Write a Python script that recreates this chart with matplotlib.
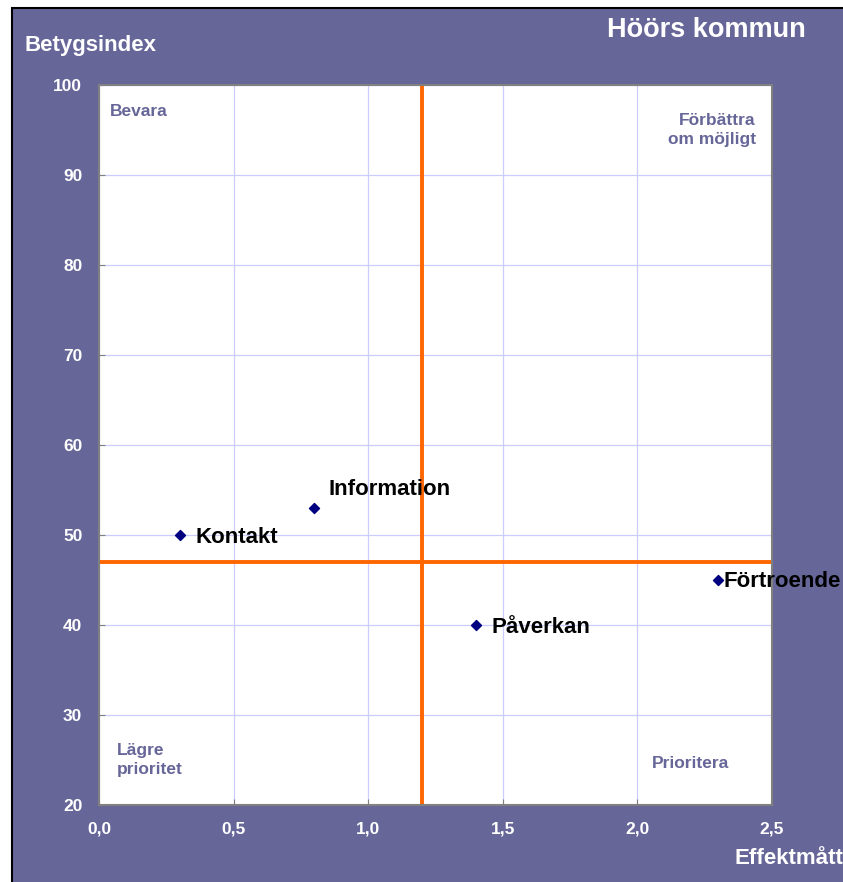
import matplotlib.pyplot as plt
from matplotlib.patches import Rectangle

plt.rcParams['font.family'] = ['Liberation Sans', 'DejaVu Sans']

# data
names = ['Kontakt', 'Information', 'Påverkan', 'Förtroende']
effekt = [0.3, 0.8, 1.4, 2.3]
betyg = [50, 53, 40, 45]
label_offsets = [(11, -1.5), (10, 13), (11, -1.5), (4, -1)]

x_ticks = [0.0, 0.5, 1.0, 1.5, 2.0, 2.5]
x_ticklabels = ['0,0', '0,5', '1,0', '1,5', '2,0', '2,5']
y_ticks = [20, 30, 40, 50, 60, 70, 80, 90, 100]

x_split = 1.2
y_split = 47

purple = '#666699'

fig = plt.figure(figsize=(8.43, 8.82), dpi=100)
fig.patch.set_facecolor('white')
bg = Rectangle((12 / 843, -0.05), 1.2, 1 - 8 / 882 + 0.05, transform=fig.transFigure,
               facecolor=purple, edgecolor='black', linewidth=1.5, zorder=-10)
fig.patches.append(bg)

ax = fig.add_axes([99 / 843, 77 / 882, 673 / 843, 720 / 882])
ax.set_facecolor('white')
ax.set_xlim(0, 2.5)
ax.set_ylim(20, 100)
ax.set_xticks(x_ticks)
ax.set_xticklabels(x_ticklabels)
ax.set_yticks(y_ticks)
ax.grid(True, color='#ccccff', linewidth=0.9, zorder=0)
ax.set_axisbelow(True)
ax.tick_params(direction='in', length=4, color='#808080', labelcolor='white',
               labelsize=12.5, pad=12)
for lab in ax.get_xticklabels() + ax.get_yticklabels():
    lab.set_fontweight('bold')
for s in ax.spines.values():
    s.set_color('#808080')
    s.set_linewidth(1.5)

ax.axvline(x_split, color='#ff6600', linewidth=2.8, zorder=2)
ax.axhline(y_split, color='#ff6600', linewidth=2.8, zorder=2)

ax.scatter(effekt, betyg, marker='D', s=26, color='#000080', zorder=3)
for n, xv, yv, off in zip(names, effekt, betyg, label_offsets):
    ax.annotate(n, (xv, yv), xytext=off, textcoords='offset points',
                ha='left', va='center', fontsize=16, fontweight='bold',
                color='black', zorder=4, annotation_clip=False)

qkw = dict(color=purple, fontsize=12.5, fontweight='bold', linespacing=1.4)
ax.text(0.04, 97, 'Bevara', ha='left', va='center', **qkw)
ax.text(2.44, 95, 'Förbättra\nom möjligt', ha='right', va='center', **qkw)
ax.text(0.067, 25, 'Lägre\nprioritet', ha='left', va='center', **qkw)
ax.text(2.054, 24.6, 'Prioritera', ha='left', va='center', **qkw)

fig.text(24 / 843, 1 - 46 / 882, 'Betygsindex', color='white', fontsize=16,
         fontweight='bold', ha='left', va='center')
fig.text(607 / 843, 1 - 30 / 882, 'Höörs kommun', color='white', fontsize=19.5,
         fontweight='bold', ha='left', va='center')
fig.text(735 / 843, 1 - 858 / 882, 'Effektmått', color='white', fontsize=16,
         fontweight='bold', ha='left', va='center')

fig.savefig('out.png', dpi=100)
